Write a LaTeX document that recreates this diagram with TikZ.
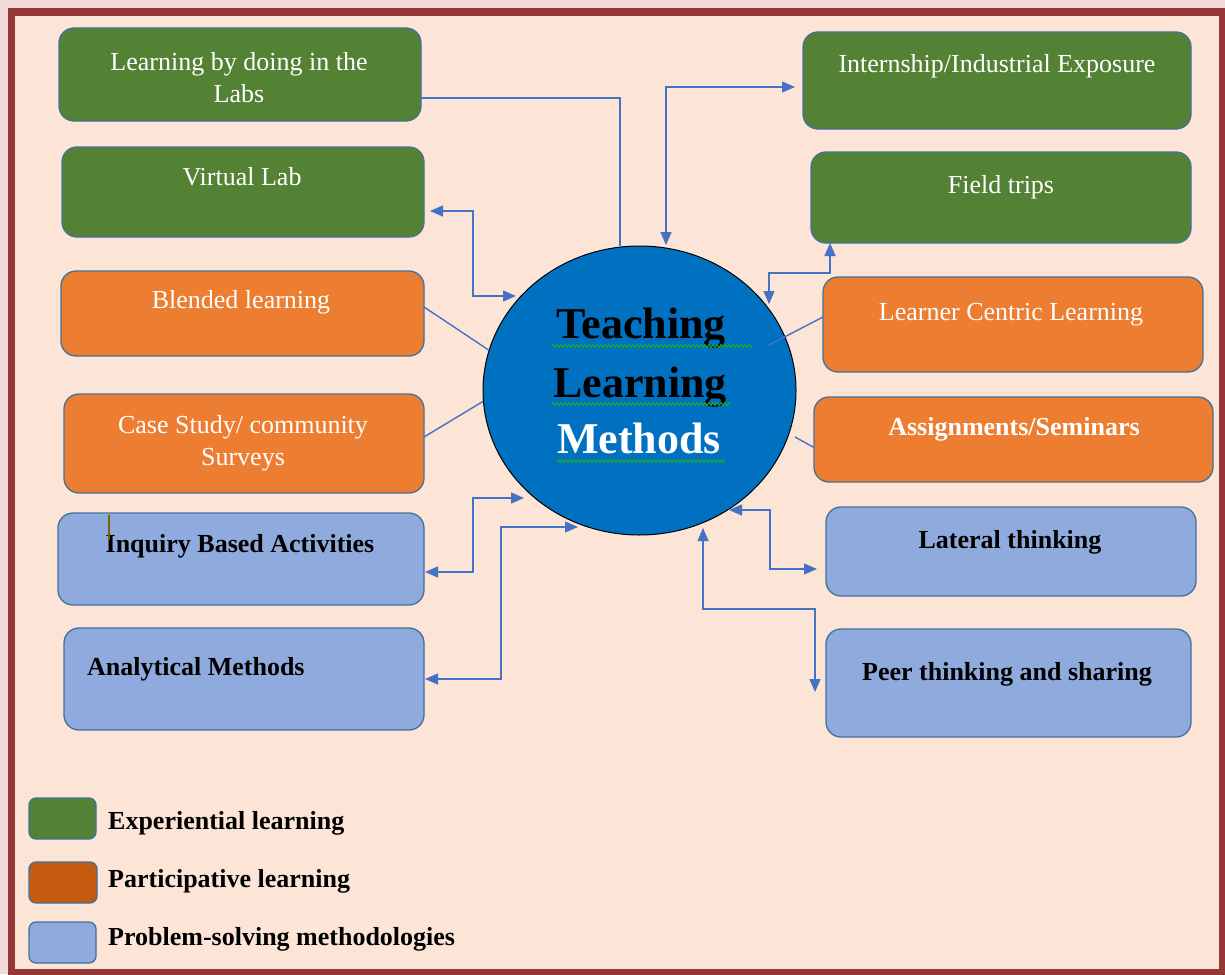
\documentclass[tikz,border=0pt]{standalone}
\usepackage{fontspec}
\setmainfont{Liberation Serif}
\usetikzlibrary{arrows.meta,shapes.geometric,decorations.pathmorphing}
\definecolor{outerbg}{HTML}{F2DCDB}
\definecolor{peach}{HTML}{FCE4D6}
\definecolor{framec}{HTML}{953735}
\definecolor{grn}{HTML}{548235}
\definecolor{org}{HTML}{ED7D31}
\definecolor{lblue}{HTML}{8FAADC}
\definecolor{legorg}{HTML}{C55A11}
\definecolor{edgec}{HTML}{41719C}
\definecolor{connblue}{HTML}{4472C4}
\definecolor{circc}{HTML}{0070C0}
\definecolor{squigc}{HTML}{18A838}
\definecolor{cursorc}{HTML}{7F6000}
\begin{document}
\begin{tikzpicture}[x=1pt,y=-1pt,
  box/.style={draw=edgec, line width=1.3pt, rounded corners=15pt, anchor=north west, inner sep=0pt, outer sep=0pt},
  gbox/.style={box, fill=grn},
  obox/.style={box, fill=org},
  bbox/.style={box, fill=lblue},
  legbox/.style={draw=edgec, line width=1.3pt, rounded corners=7pt, anchor=north west, inner sep=0pt, outer sep=0pt},
  wt/.style={text=white, anchor=base, inner sep=0pt, font=\fontsize{26}{32}\selectfont, align=center},
  wbt/.style={text=white, anchor=base, inner sep=0pt, font=\fontsize{26}{32}\selectfont\bfseries, align=center},
  bt/.style={text=black, anchor=base, inner sep=0pt, font=\fontsize{26}{32}\selectfont\bfseries, align=center},
  lt/.style={text=black, anchor=base west, inner sep=0pt, font=\fontsize{26}{32}\selectfont\bfseries},
  title/.style={anchor=base, inner sep=0pt, font=\fontsize{44}{50}\selectfont\bfseries},
  link/.style={draw=connblue, line width=1.4pt},
  dbl/.style={link, {Triangle[length=13pt,width=11pt]}-{Triangle[length=13pt,width=11pt]}},
  squig/.style={draw=squigc, line width=1.1pt, decorate, decoration={zigzag, segment length=4pt, amplitude=1.4pt}}
]
\useasboundingbox (0,0) rectangle (1225,974);
\fill[outerbg] (0,0) rectangle (1225,974);
\fill[framec] (8,8) rectangle (1232,982);
\fill[peach] (15,16) rectangle (1219,969);

% boxes left
\node[gbox, minimum width=362pt, minimum height=93pt] (labs) at (59,28) {};
\node[gbox, minimum width=362pt, minimum height=90pt] (vlab) at (62,147) {};
\node[obox, minimum width=363pt, minimum height=85pt] (blend) at (61,271) {};
\node[obox, minimum width=360pt, minimum height=99pt] (cases) at (64,394) {};
\node[bbox, minimum width=366pt, minimum height=92pt] (inq) at (58,513) {};
\node[bbox, minimum width=360pt, minimum height=102pt] (anal) at (64,628) {};
% boxes right
\node[gbox, minimum width=388pt, minimum height=97pt] (intern) at (803,32) {};
\node[gbox, minimum width=380pt, minimum height=91pt] (field) at (811,152) {};
\node[obox, minimum width=380pt, minimum height=95pt] (lcl) at (823,277) {};
\node[obox, minimum width=399pt, minimum height=85pt] (assign) at (814,397) {};
\node[bbox, minimum width=370pt, minimum height=89pt] (lat) at (826,507) {};
\node[bbox, minimum width=365pt, minimum height=108pt] (peer) at (826,629) {};

% texts
\node[wt] (labsT) at (239,102) {Learning by doing in the\\Labs};
\node[wt] (vlabT) at (242,185) {Virtual Lab};
\node[wt] (blendT) at (241,308) {Blended learning};
\node[wt] (casesT) at (243,465) {Case Study/ community\\Surveys};
\node[bt] (inqT) at (240,552) {Inquiry Based Activities};
\node[bt, anchor=base west] (analT) at (87,675) {Analytical Methods};
\node[wt] (internT) at (997,73) {Internship/Industrial Exposure};
\node[wt] (fieldT) at (1001,193) {Field trips};
\node[wt] (lclT) at (1011,320) {Learner Centric Learning};
\node[wbt] (assignT) at (1014,435) {Assignments/Seminars};
\node[bt] (latT) at (1010,548) {Lateral thinking};
\node[bt] (peerT) at (1007,680) {Peer thinking and sharing};
\draw[cursorc, line width=2pt] (109,515) -- (109,540);

% central ellipse
\node[ellipse, draw=black, line width=1pt, fill=circc, minimum width=313pt, minimum height=289pt, inner sep=0pt] (circ) at (639.5,390.5) {};
\node[title, text=black] (t1) at (641,338) {Teaching};
\node[title, text=black] (t2) at (640,397) {Learning};
\node[title, text=white] (t3) at (639,453) {Methods};
\draw[squig] (552,346) -- (752,346);
\draw[squig] (552,404) -- (730,404);
\draw[squig] (557,461) -- (725,461);

% connector end points
\coordinate (cLabs) at (620,246);
\coordinate (cInt) at (666,245);
\coordinate (cV) at (516,296);
\coordinate (cF) at (769,304);
\coordinate (cI) at (524,498);
\coordinate (cA) at (578,527);
\coordinate (cL) at (729,510);
\coordinate (cP) at (703,528);
\coordinate (cLcl) at (769,345);
\coordinate (cAs) at (795,437);
\path (intern.west) ++(-8,6.5) coordinate (iInt);
\path (vlab.east) ++(6,19) coordinate (iV);
\path (field.south west) ++(19,0) coordinate (iF);
\path (inq.east) ++(1,13) coordinate (iI);
\path (anal.east) ++(1,0) coordinate (iA);
\path (lat.west) ++(-9,17.5) coordinate (iL);
\path (peer.west) ++(-11,9) coordinate (iP);

% connectors
\draw[link] (labs.east |- 0,98) -| (cLabs);
\draw[dbl] (cInt) |- (iInt);
\draw[dbl] (iV) -| (473,296) -- (cV);
\draw[dbl] (iF) |- (cF |- 0,273) -- (cF);
\draw[link] ([yshift=6.5pt]blend.east) -- (circ.165);
\draw[link] ([yshift=6.5pt]cases.east) -- (circ.184);
\draw[link] ([yshift=7.5pt]lcl.west) -- (cLcl);
\draw[link] ([yshift=-8pt]assign.west) -- (cAs);
\draw[dbl] (iI) -| (473,498) -- (cI);
\draw[dbl] (iA) -| (501,527) -- (cA);
\draw[dbl] (cL) -| (770,569) -- (iL);
\draw[dbl] (cP) |- (815,609) -- (iP);

% legend
\node[legbox, fill=grn, minimum width=67pt, minimum height=41pt] (lg1) at (29,798) {};
\node[legbox, fill=legorg, minimum width=68pt, minimum height=41pt] (lg2) at (29,862) {};
\node[legbox, fill=lblue, minimum width=67pt, minimum height=41pt] (lg3) at (29,922) {};
\node[lt] (lg1T) at (108,829) {Experiential learning};
\node[lt] (lg2T) at (108,887) {Participative learning};
\node[lt] (lg3T) at (108,945) {Problem-solving methodologies};
\end{tikzpicture}
\end{document}
